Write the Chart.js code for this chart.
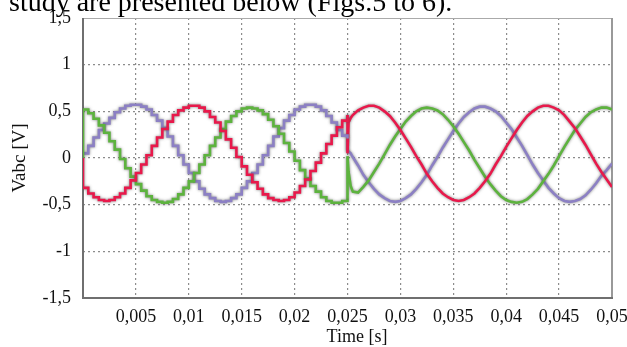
<!DOCTYPE html>
<html>
<head>
<meta charset="utf-8">
<script src="https://cdn.jsdelivr.net/npm/chart.js@4.4.0/dist/chart.umd.min.js"></script>
<style>
  html, body { margin: 0; padding: 0; background: #fff; overflow: hidden; }
  #wrap { position: relative; width: 627px; height: 347px; }
  #chart { position: absolute; left: 0; top: 0; }
  #caption { position: absolute; left: 9px; top: -12px; font-family: 'Liberation Serif', 'Times New Roman', serif;
    font-size: 28px; line-height: 28px; white-space: nowrap; color: #000; }
</style>
</head>
<body>
<div id="wrap">
  <canvas id="chart" width="627" height="347"></canvas>
  <div id="caption">study are presented below (Figs.5 to 6).</div>
</div>
<script>
// ── DATA ────────────────────────────────────────────────────────────────────
// before the event (0 .. 0.025 s), sampled output -> drawn stepped
const tPre = [0, 0, 0.0005, 0.001, 0.0015, 0.002, 0.0025, 0.003, 0.0035, 0.004, 0.0045,
  0.005, 0.0055, 0.006, 0.0065, 0.007, 0.0075, 0.008, 0.0085, 0.009, 0.0095,
  0.010, 0.0105, 0.011, 0.0115, 0.012, 0.0125, 0.013, 0.0135, 0.014, 0.0145,
  0.015, 0.0155, 0.016, 0.0165, 0.017, 0.0175, 0.018, 0.0185, 0.019, 0.0195,
  0.020, 0.0205, 0.021, 0.0215, 0.022, 0.0225, 0.023, 0.0235, 0.024, 0.0245, 0.025];
const vaPre = [0, -0.32, -0.38, -0.42, -0.45, -0.46, -0.45, -0.42, -0.38, -0.32, -0.24,
  -0.16, -0.07, 0.03, 0.13, 0.22, 0.31, 0.39, 0.46, 0.51, 0.54,
  0.56, 0.56, 0.54, 0.50, 0.44, 0.38, 0.29, 0.20, 0.11, 0.01,
  -0.09, -0.18, -0.26, -0.33, -0.39, -0.43, -0.45, -0.46, -0.45, -0.42,
  -0.37, -0.30, -0.23, -0.14, -0.05, 0.05, 0.15, 0.24, 0.33, 0.40, 0.46];
const vbPre = [0, 0.52, 0.48, 0.42, 0.35, 0.27, 0.18, 0.09, -0.01, -0.11, -0.20,
  -0.28, -0.35, -0.41, -0.45, -0.47, -0.48, -0.47, -0.44, -0.39, -0.32,
  -0.25, -0.16, -0.07, 0.03, 0.13, 0.22, 0.31, 0.39, 0.45, 0.50,
  0.53, 0.54, 0.53, 0.51, 0.47, 0.41, 0.34, 0.26, 0.16, 0.07,
  -0.03, -0.13, -0.22, -0.30, -0.36, -0.42, -0.46, -0.48, -0.48, -0.46, -0.45];
const vcPre = [0.05, 0.05, 0.13, 0.22, 0.30, 0.37, 0.43, 0.49, 0.53, 0.56, 0.57,
  0.57, 0.55, 0.52, 0.46, 0.40, 0.32, 0.23, 0.13, 0.03, -0.07,
  -0.16, -0.25, -0.33, -0.39, -0.43, -0.46, -0.47, -0.46, -0.43, -0.39,
  -0.32, -0.25, -0.16, -0.07, 0.03, 0.13, 0.23, 0.32, 0.40, 0.46,
  0.52, 0.55, 0.57, 0.57, 0.55, 0.51, 0.45, 0.38, 0.30, 0.24, 0.21];

// after the event (0.025 .. 0.05 s)
const tPost = [0.025, 0.025, 0.0251, 0.0253, 0.0255,
  0.026, 0.0265, 0.027, 0.0275, 0.028, 0.0285, 0.029, 0.0295, 0.030, 0.0305,
  0.031, 0.0315, 0.032, 0.0325, 0.033, 0.0335, 0.034, 0.0345, 0.035, 0.0355,
  0.036, 0.0365, 0.037, 0.0375, 0.038, 0.0385, 0.039, 0.0395, 0.040, 0.0405,
  0.041, 0.0415, 0.042, 0.0425, 0.043, 0.0435, 0.044, 0.0445, 0.045, 0.0455,
  0.046, 0.0465, 0.047, 0.0475, 0.048, 0.0485, 0.049, 0.0495, 0.050];
const vaPost = [0.46, 0.05, 0.38, 0.43, 0.46,
  0.51, 0.54, 0.56, 0.56, 0.54, 0.50, 0.45, 0.38, 0.30, 0.21,
  0.12, 0.02, -0.07, -0.17, -0.25, -0.32, -0.38, -0.42, -0.45, -0.46,
  -0.45, -0.42, -0.38, -0.32, -0.25, -0.17, -0.07, 0.02, 0.12, 0.21,
  0.30, 0.38, 0.45, 0.50, 0.54, 0.56, 0.56, 0.54, 0.51, 0.46,
  0.39, 0.32, 0.23, 0.14, 0.04, -0.06, -0.15, -0.23, -0.31];
const vbPost = [-0.45, 0.02, -0.15, -0.30, -0.36,
  -0.37, -0.31, -0.24, -0.15, -0.06, 0.04, 0.14, 0.23, 0.31, 0.39,
  0.45, 0.50, 0.53, 0.54, 0.53, 0.51, 0.47, 0.41, 0.34, 0.26,
  0.17, 0.08, -0.02, -0.11, -0.20, -0.28, -0.35, -0.41, -0.45, -0.47,
  -0.48, -0.47, -0.44, -0.39, -0.33, -0.25, -0.17, -0.08, 0.02, 0.12,
  0.21, 0.30, 0.37, 0.44, 0.49, 0.52, 0.54, 0.54, 0.52];
const vcPost = [0.21, 0.08, 0.07, 0.05, 0.01,
  -0.08, -0.18, -0.26, -0.33, -0.39, -0.43, -0.46, -0.47, -0.46, -0.43,
  -0.39, -0.33, -0.26, -0.18, -0.08, 0.01, 0.11, 0.20, 0.29, 0.37,
  0.44, 0.49, 0.53, 0.55, 0.55, 0.53, 0.50, 0.45, 0.38, 0.31,
  0.22, 0.13, 0.03, -0.07, -0.16, -0.24, -0.32, -0.38, -0.43, -0.46,
  -0.47, -0.46, -0.44, -0.40, -0.34, -0.27, -0.19, -0.13, -0.06];

const COLORS = { a: '#e8194b', b: '#5db33e', c: '#8c80c4' };
const SERIF = "'Liberation Serif', 'Times New Roman', serif";

const pts = (t, v) => t.map((x, i) => ({ x: x, y: v[i] }));
const fmt = v => String(Number(v.toFixed(4))).replace('.', ',');

function line(t, v, color, stepped) {
  return { data: pts(t, v), borderColor: color, borderWidth: 2.6, pointRadius: 0,
    stepped: stepped, tension: 0, fill: false };
}

// ── PLUGINS ───────────────────────────────────────────────────────────────
// soft grey halo round every trace
const halo = {
  id: 'halo',
  beforeDatasetDraw(chart) {
    const ctx = chart.ctx;
    ctx.save();
    ctx.shadowColor = 'rgba(80,80,80,0.75)';
    ctx.shadowBlur = 3;
  },
  afterDatasetDraw(chart) { chart.ctx.restore(); }
};

// plot frame + x title
const frame = {
  id: 'frame',
  beforeDatasetsDraw(chart) {
    const { ctx, chartArea: a } = chart;
    ctx.save();
    ctx.strokeStyle = '#aaa'; ctx.lineWidth = 1;
    ctx.beginPath(); ctx.moveTo(a.left, a.top + 0.5); ctx.lineTo(a.right, a.top + 0.5); ctx.stroke();
    ctx.strokeStyle = '#999'; ctx.lineWidth = 2;
    ctx.beginPath(); ctx.moveTo(a.right, a.top); ctx.lineTo(a.right, a.bottom); ctx.stroke();
    ctx.strokeStyle = '#6f6f6f'; ctx.lineWidth = 2;
    ctx.beginPath(); ctx.moveTo(a.left, a.top); ctx.lineTo(a.left, a.bottom); ctx.lineTo(a.right + 1, a.bottom); ctx.stroke();
    ctx.restore();
  },
  afterDraw(chart) {
    const ctx = chart.ctx;
    ctx.save();
    ctx.font = '18px ' + SERIF;
    ctx.fillStyle = '#111';
    ctx.textAlign = 'center';
    ctx.textBaseline = 'middle';
    ctx.fillText('Time [s]', 357, 337);
    ctx.restore();
  }
};

const gridColor = (lo, hi) => c => (Math.abs(c.tick.value - lo) < 1e-9 || Math.abs(c.tick.value - hi) < 1e-9) ? 'rgba(0,0,0,0)' : '#8c8c8c';

new Chart(document.getElementById('chart'), {
  type: 'line',
  data: {
    datasets: [
      line(tPre, vaPre, COLORS.a, true),
      line(tPre, vbPre, COLORS.b, true),
      line(tPre, vcPre, COLORS.c, true),
      line(tPost, vaPost, COLORS.a, false),
      line(tPost, vbPost, COLORS.b, false),
      line(tPost, vcPost, COLORS.c, false),
    ]
  },
  options: {
    responsive: false, animation: false, devicePixelRatio: 1,
    layout: { padding: { top: 18, left: 0, right: 15, bottom: 0 } },
    plugins: { legend: { display: false }, tooltip: { enabled: false } },
    scales: {
      x: {
        type: 'linear', min: 0, max: 0.05,
        grid: { color: gridColor(0, 0.05), lineWidth: 1.2, drawTicks: false },
        border: { display: false, dash: [2, 3] },
        ticks: { stepSize: 0.005, autoSkip: false, maxRotation: 0, padding: 8, color: '#111',
          font: { family: SERIF, size: 18 },
          callback: v => v === 0 ? '' : fmt(v) },
        afterFit: s => { s.height = 49; s.paddingRight = 0; s.paddingLeft = 0; }
      },
      y: {
        min: -1.5, max: 1.5,
        grid: { color: gridColor(-1.5, 1.5), lineWidth: 1.2, drawTicks: false },
        border: { display: false, dash: [2, 3] },
        ticks: { stepSize: 0.5, padding: 12, color: '#111', font: { family: SERIF, size: 18 },
          callback: v => fmt(v) },
        title: { display: true, text: 'Vabc [V]', color: '#111', font: { family: SERIF, size: 19 },
          padding: { top: 9, bottom: 0 } },
        afterFit: s => { s.width = 83; s.paddingTop = 0; s.paddingBottom = 0; }
      }
    }
  },
  plugins: [halo, frame]
});
</script>
</body>
</html>
